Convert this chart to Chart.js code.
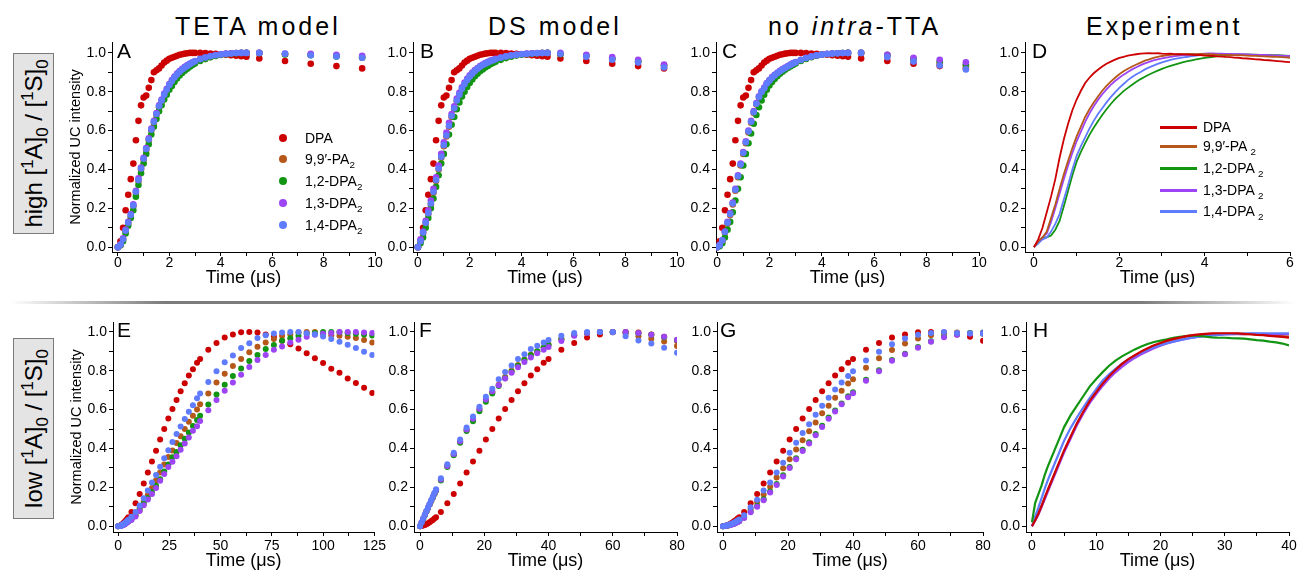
<!DOCTYPE html>
<html>
<head>
<meta charset="utf-8">
<script src="https://cdn.jsdelivr.net/npm/chart.js@4.4.0/dist/chart.umd.min.js"></script>
<style>
  body { margin: 0; background: #fff; font-family: "Liberation Sans", Arial, sans-serif; color: #000; }
  #page { position: relative; width: 1299px; height: 571px; overflow: hidden; }
  canvas { position: absolute; }
  .coltitle { position: absolute; top: 14px; font-size: 25px; line-height: 25px; letter-spacing: 3px; white-space: nowrap; }
  .letter { position: absolute; font-size: 21px; line-height: 21px; }
  .rowbox { position: absolute; left: 13px; width: 39px; height: 179px; background: #e4e4e4; border: 1px solid #7a7a7a; }
  .rowbox div { position: absolute; left: -71px; top: 69px; width: 181px; height: 41px; line-height: 41px;
                text-align: center; font-size: 24px; white-space: nowrap; transform: rotate(-90deg); }
  .leg { position: absolute; font-size: 14px; line-height: 14px; white-space: nowrap; }
  .dot { position: absolute; width: 8px; height: 8px; border-radius: 50%; }
  .swatch { position: absolute; width: 37px; height: 3px; }
  sub, sup { font-size: 70%; line-height: 0; }
  #sep { position: absolute; left: 10px; top: 301px; width: 1285px; height: 3px;
         background: linear-gradient(to right, rgba(120,120,120,0), #7c7c7c 12%, #7c7c7c 88%, rgba(120,120,120,0)); }
</style>
</head>
<body>
<div id="page">
  <div class="coltitle" style="left:175px">TETA model</div>
  <div class="coltitle" style="left:488px">DS model</div>
  <div class="coltitle" style="left:768px">no <i>intra</i>-TTA</div>
  <div class="coltitle" style="left:1086px">Experiment</div>

  <div class="rowbox" style="top:53px"><div>high [<sup>1</sup>A]<sub>0</sub> / [<sup>1</sup>S]<sub>0</sub></div></div>
  <div class="rowbox" style="top:338px"><div>low [<sup>1</sup>A]<sub>0</sub> / [<sup>1</sup>S]<sub>0</sub></div></div>
  <div id="sep"></div>

  <canvas id="cA"></canvas><canvas id="cB"></canvas><canvas id="cC"></canvas><canvas id="cD"></canvas>
  <canvas id="cE"></canvas><canvas id="cF"></canvas><canvas id="cG"></canvas><canvas id="cH"></canvas>

  <div class="letter" style="left:117px;top:40px">A</div>
  <div class="letter" style="left:420px;top:40px">B</div>
  <div class="letter" style="left:722px;top:40px">C</div>
  <div class="letter" style="left:1032px;top:40px">D</div>
  <div class="letter" style="left:117px;top:319px">E</div>
  <div class="letter" style="left:419px;top:319px">F</div>
  <div class="letter" style="left:720px;top:319px">G</div>
  <div class="letter" style="left:1033px;top:319px">H</div>

  <div id="legA"></div>
  <div id="legD"></div>
</div>

<script>
const FONT = '"Liberation Sans", Arial, sans-serif';
const SERIES = ['DPA', '9,9′-PA<sub>2</sub>', '1,2-DPA<sub>2</sub>', '1,3-DPA<sub>2</sub>', '1,4-DPA<sub>2</sub>'];
const COLORS = ['#cc0000', '#b5581a', '#129512', '#9d45f5', '#5f7bff'];

// high concentration, simulations (time in us)
const tHigh = [0,0.1,0.2,0.3,0.4,0.5,0.6,0.7,0.8,0.9,1,1.1,1.2,1.3,1.4,1.5,1.6,1.7,1.8,1.9,2,2.1,2.2,2.3,2.4,2.5,2.6,2.7,2.8,2.9,3,
  3.2,3.4,3.6,3.8,4,4.2,4.4,4.6,4.8,5, 5.5,6.5,7.5,8.5,9.5];

const dpaHigh = [0,0.03,0.10,0.19,0.27,0.35,0.43,0.55,0.65,0.73,0.77,0.78,0.82,0.86,0.90,0.91,0.92,0.935,0.95,0.96,0.97,0.975,0.98,0.985,0.99,0.993,0.996,0.998,1.0,1.0,1.0,
  1.0,0.999,0.997,0.995,0.993,0.99,0.988,0.985,0.983,0.98, 0.971,0.958,0.944,0.932,0.92];

const tetaPA  = [0,0.01,0.04,0.08,0.12,0.16,0.21,0.28,0.34,0.40,0.45,0.50,0.55,0.60,0.64,0.68,0.72,0.75,0.78,0.805,0.83,0.85,0.87,0.885,0.90,0.91,0.92,0.93,0.94,0.948,0.955,
  0.966,0.975,0.982,0.988,0.992,0.995,0.997,0.999,1.0,1.0, 1.0,0.993,0.99,0.985,0.978];
const teta12 = [0,0.01,0.03,0.07,0.11,0.15,0.19,0.26,0.32,0.38,0.43,0.48,0.53,0.58,0.62,0.66,0.70,0.73,0.76,0.785,0.81,0.83,0.85,0.868,0.884,0.897,0.908,0.918,0.928,0.937,0.945,
  0.958,0.968,0.977,0.984,0.989,0.993,0.996,0.998,0.999,1.0, 0.998,0.992,0.988,0.982,0.975];
const teta13 = [0,0.015,0.045,0.09,0.13,0.17,0.22,0.29,0.355,0.41,0.46,0.51,0.56,0.61,0.65,0.69,0.73,0.76,0.79,0.815,0.84,0.86,0.878,0.893,0.907,0.918,0.928,0.937,0.945,0.952,0.958,
  0.969,0.977,0.984,0.989,0.993,0.996,0.998,0.999,1.0,1.0, 1.0,0.997,0.995,0.99,0.985];
const teta14 = [0,0.012,0.04,0.085,0.125,0.165,0.215,0.285,0.345,0.405,0.455,0.505,0.555,0.605,0.645,0.685,0.725,0.755,0.785,0.81,0.835,0.855,0.873,0.889,0.903,0.914,0.924,0.933,0.942,0.95,0.957,
  0.968,0.976,0.983,0.988,0.992,0.995,0.997,0.999,1.0,1.0, 1.0,0.995,0.988,0.982,0.975];

const dsPA  = [0,0.03,0.07,0.12,0.17,0.22,0.28,0.34,0.40,0.46,0.52,0.57,0.62,0.67,0.71,0.75,0.78,0.81,0.835,0.855,0.875,0.89,0.905,0.915,0.925,0.935,0.942,0.95,0.956,0.961,0.966,
  0.974,0.981,0.986,0.99,0.993,0.995,0.997,0.998,0.999,1.0, 0.995,0.985,0.97,0.955,0.935];
const ds12 = [0,0.02,0.05,0.10,0.15,0.20,0.25,0.31,0.37,0.43,0.48,0.53,0.58,0.63,0.67,0.71,0.745,0.775,0.80,0.825,0.845,0.863,0.88,0.893,0.905,0.915,0.925,0.933,0.941,0.948,0.954,
  0.964,0.973,0.98,0.986,0.99,0.993,0.996,0.998,0.999,1.0, 0.993,0.985,0.97,0.955,0.935];
const ds13 = [0,0.04,0.08,0.135,0.19,0.24,0.30,0.36,0.42,0.48,0.54,0.59,0.64,0.685,0.725,0.765,0.795,0.823,0.847,0.866,0.885,0.899,0.912,0.922,0.932,0.94,0.947,0.954,0.96,0.965,0.97,
  0.977,0.983,0.988,0.991,0.994,0.996,0.998,0.999,1.0,1.0, 1.0,0.99,0.978,0.965,0.94];
const ds14 = [0,0.03,0.075,0.125,0.175,0.225,0.285,0.345,0.405,0.465,0.525,0.575,0.625,0.675,0.715,0.755,0.785,0.815,0.84,0.86,0.878,0.893,0.907,0.918,0.928,0.937,0.944,0.951,0.957,0.962,0.967,
  0.975,0.982,0.987,0.99,0.993,0.995,0.997,0.998,0.999,1.0, 0.995,0.98,0.965,0.95,0.925];

const niPA  = [0,0.01,0.03,0.075,0.12,0.165,0.22,0.29,0.36,0.42,0.48,0.535,0.59,0.64,0.69,0.735,0.77,0.795,0.815,0.84,0.855,0.87,0.882,0.893,0.903,0.912,0.92,0.928,0.936,0.943,0.95,
  0.962,0.972,0.98,0.986,0.991,0.994,0.996,0.998,0.999,1.0, 1.0,0.985,0.965,0.945,0.935];
const ni12 = [0,0.005,0.02,0.05,0.09,0.13,0.18,0.24,0.30,0.36,0.42,0.48,0.535,0.585,0.635,0.68,0.72,0.755,0.785,0.81,0.832,0.85,0.866,0.88,0.892,0.903,0.913,0.922,0.93,0.938,0.945,
  0.958,0.969,0.978,0.985,0.99,0.994,0.996,0.998,0.999,1.0, 1.0,0.99,0.97,0.955,0.94];
const ni13 = [0,0.012,0.035,0.08,0.13,0.175,0.23,0.30,0.37,0.43,0.49,0.545,0.60,0.65,0.70,0.742,0.777,0.802,0.822,0.845,0.86,0.875,0.887,0.898,0.908,0.917,0.925,0.932,0.94,0.947,0.953,
  0.965,0.975,0.982,0.988,0.992,0.995,0.997,0.998,0.999,1.0, 1.0,0.99,0.975,0.965,0.952];
const ni14 = [0,0.01,0.035,0.078,0.125,0.17,0.225,0.295,0.365,0.425,0.485,0.54,0.595,0.645,0.695,0.738,0.773,0.798,0.818,0.842,0.857,0.872,0.884,0.895,0.905,0.914,0.922,0.93,0.938,0.945,0.952,
  0.963,0.973,0.981,0.987,0.991,0.994,0.996,0.998,0.999,1.0, 1.0,0.978,0.955,0.935,0.915];

// high concentration, experiment
const tExpHigh = [0,0.1,0.2,0.3,0.4,0.5,0.6,0.7,0.8,0.9,1,1.1,1.2,1.3,1.4,1.5,1.6,1.7,1.8,1.9,2,2.1,2.2,2.3,2.4,2.5,2.6,2.7,2.8,2.9,
  3,3.1,3.2,3.3,3.4,3.5,3.6,3.7,3.8,3.9,4,4.1,4.2,4.3,4.4,4.5,4.6,4.7,4.8,4.9,5,5.1,5.2,5.3,5.4,5.5,5.6,5.7,5.8,5.9,6];
const expDPA = [0,0.04,0.10,0.18,0.26,0.35,0.46,0.555,0.635,0.705,0.76,0.805,0.845,0.872,0.895,0.913,0.93,0.944,0.955,0.965,
  0.974,0.98,0.986,0.99,0.993,0.996,0.997,0.998,0.997,0.998,0.996,0.995,0.996,0.994,0.993,0.992,0.991,0.99,0.988,0.989,
  0.986,0.985,0.984,0.982,0.981,0.979,0.978,0.976,0.975,0.972,0.971,0.969,0.967,0.966,0.963,0.962,0.96,0.958,0.956,0.954,0.952];
const expPA = [0,0.03,0.05,0.08,0.15,0.22,0.30,0.375,0.445,0.51,0.57,0.62,0.67,0.71,0.745,0.775,0.805,0.83,0.852,0.872,
  0.89,0.905,0.918,0.93,0.94,0.95,0.96,0.967,0.974,0.98,0.984,0.987,0.99,0.991,0.993,0.994,0.995,0.995,0.994,0.995,
  0.993,0.993,0.992,0.991,0.99,0.99,0.989,0.988,0.988,0.987,0.986,0.985,0.985,0.983,0.982,0.981,0.98,0.979,0.978,0.977,0.975];
const exp12 = [0,0.02,0.05,0.05,0.06,0.09,0.135,0.21,0.29,0.37,0.44,0.49,0.535,0.578,0.615,0.648,0.68,0.71,0.737,0.762,
  0.783,0.803,0.82,0.836,0.851,0.865,0.877,0.889,0.899,0.909,0.918,0.926,0.933,0.94,0.946,0.952,0.957,0.962,0.966,0.97,
  0.974,0.977,0.98,0.983,0.985,0.987,0.989,0.99,0.991,0.991,0.992,0.991,0.991,0.99,0.99,0.989,0.988,0.988,0.987,0.986,0.985];
const exp13 = [0,0.03,0.05,0.07,0.13,0.20,0.275,0.35,0.42,0.485,0.545,0.595,0.645,0.688,0.725,0.758,0.787,0.812,0.835,0.855,
  0.872,0.888,0.902,0.915,0.926,0.937,0.946,0.954,0.961,0.967,0.972,0.976,0.98,0.983,0.986,0.988,0.99,0.992,0.994,0.995,
  0.996,0.997,0.997,0.996,0.996,0.995,0.995,0.994,0.993,0.993,0.992,0.991,0.99,0.99,0.989,0.988,0.987,0.987,0.986,0.985,0.984];
const exp14 = [0,0.02,0.04,0.05,0.08,0.12,0.17,0.245,0.32,0.40,0.47,0.52,0.565,0.61,0.65,0.685,0.715,0.745,0.772,0.797,
  0.82,0.84,0.86,0.876,0.89,0.902,0.915,0.925,0.934,0.943,0.951,0.958,0.964,0.969,0.973,0.977,0.98,0.983,0.986,0.988,
  0.99,0.991,0.992,0.992,0.993,0.993,0.993,0.992,0.992,0.991,0.99,0.989,0.988,0.988,0.987,0.986,0.985,0.984,0.983,0.982,0.98];

// low concentration, simulations
const tLow = [0,0.5,1,1.5,2,2.5,3,3.5,4,4.5,5, 6.5,8.5,10.5,12.5,14.5,16.5,18.5,20.5,22.5,24.5,26.5,28.5,30.5,32.5,34.5,36.5,38.5,40,
  44,48,52,56,60,64,68,72,76,80, 84,88,92,96,100,104,108,112,116,120,124];
const dpaLow = [0,0.001,0.003,0.006,0.01,0.015,0.02,0.026,0.032,0.039,0.046,
  0.073,0.118,0.166,0.22,0.276,0.333,0.388,0.446,0.50,0.554,0.603,0.65,0.695,0.736,0.776,0.808,0.841,0.861,
  0.908,0.943,0.971,0.987,0.998,1.0,0.997,0.987,0.975,0.954, 0.937,0.915,0.89,0.865,0.84,0.81,0.79,0.76,0.737,0.712,0.686];

const tetaLowPA = [0,0.001,0.002,0.003,0.005,0.008,0.011,0.015,0.019,0.024,0.029,
  0.04,0.063,0.094,0.127,0.16,0.196,0.237,0.276,0.317,0.356,0.39,0.428,0.463,0.50,0.537,0.569,0.601,0.627,
  0.683,0.739,0.785,0.824,0.861,0.895,0.924,0.946,0.963,0.98, 0.988,0.997,1.0,1.0,0.99,0.983,0.98,0.975,0.968,0.958,0.946];
const tetaLow12 = [0,0.001,0.002,0.003,0.005,0.007,0.01,0.013,0.017,0.021,0.025,
  0.035,0.055,0.083,0.115,0.145,0.176,0.208,0.242,0.281,0.318,0.355,0.382,0.416,0.45,0.482,0.516,0.547,0.569,
  0.626,0.678,0.728,0.773,0.812,0.85,0.881,0.912,0.932,0.954, 0.967,0.98,0.99,0.995,1.0,1.0,0.998,0.995,0.99,0.987,0.982];
const tetaLow13 = [0,0.001,0.002,0.003,0.004,0.006,0.009,0.012,0.016,0.02,0.024,
  0.032,0.05,0.078,0.108,0.137,0.165,0.196,0.234,0.268,0.305,0.332,0.36,0.394,0.425,0.457,0.491,0.515,0.542,
  0.597,0.649,0.697,0.74,0.78,0.82,0.855,0.881,0.908,0.925, 0.945,0.96,0.975,0.985,0.99,0.995,1.0,1.0,1.0,0.997,0.995];
const tetaLow14 = [0,0.001,0.002,0.004,0.007,0.01,0.014,0.018,0.023,0.028,0.033,
  0.048,0.073,0.107,0.144,0.183,0.225,0.264,0.306,0.349,0.391,0.433,0.474,0.513,0.552,0.589,0.623,0.658,0.683,
  0.742,0.797,0.844,0.878,0.917,0.942,0.968,0.983,0.992,0.997, 1.0,1.0,0.993,0.988,0.976,0.963,0.949,0.934,0.917,0.898,0.881];

const dsLowPA = [0,0.019,0.038,0.057,0.076,0.094,0.112,0.13,0.148,0.166,0.184,
  0.238,0.31,0.37,0.435,0.495,0.55,0.60,0.65,0.69,0.728,0.768,0.80,0.83,0.858,0.882,0.90,0.92,0.935,
  0.965,0.985,0.995,1.0,1.0,0.99,0.978,0.965,0.95,0.927];
const dsLow12 = [0,0.018,0.037,0.056,0.075,0.093,0.111,0.129,0.147,0.165,0.183,
  0.235,0.305,0.365,0.43,0.49,0.54,0.592,0.64,0.683,0.722,0.762,0.795,0.826,0.855,0.88,0.90,0.918,0.933,
  0.962,0.983,0.995,1.0,1.0,0.998,0.993,0.985,0.973,0.958];
const dsLow13 = [0,0.02,0.039,0.058,0.077,0.095,0.113,0.132,0.15,0.168,0.186,
  0.24,0.31,0.372,0.437,0.497,0.553,0.605,0.652,0.695,0.725,0.76,0.79,0.818,0.845,0.868,0.89,0.908,0.922,
  0.953,0.98,0.995,1.0,1.0,1.0,0.995,0.986,0.975,0.96];
const dsLow14 = [0,0.02,0.04,0.06,0.08,0.098,0.116,0.135,0.153,0.172,0.19,
  0.247,0.319,0.378,0.446,0.508,0.564,0.615,0.666,0.708,0.756,0.793,0.827,0.861,0.885,0.912,0.929,0.946,0.958,
  0.98,0.995,1.0,1.0,0.998,0.978,0.956,0.94,0.919,0.893];

const niLowPA = [0,0.001,0.002,0.004,0.007,0.01,0.013,0.017,0.021,0.026,0.031,
  0.05,0.088,0.125,0.163,0.203,0.25,0.298,0.344,0.395,0.442,0.488,0.534,0.581,0.62,0.661,0.697,0.734,0.756,
  0.815,0.864,0.907,0.94,0.966,0.983,0.993,0.997,0.995,0.99];
const niLow12 = [0,0.001,0.002,0.003,0.006,0.008,0.011,0.014,0.018,0.022,0.027,
  0.045,0.076,0.104,0.138,0.178,0.217,0.262,0.305,0.35,0.393,0.432,0.474,0.517,0.559,0.596,0.632,0.669,0.69,
  0.754,0.802,0.855,0.888,0.922,0.952,0.977,0.988,0.995,0.997];
const niLow13 = [0,0.001,0.002,0.003,0.005,0.007,0.01,0.013,0.017,0.021,0.025,
  0.042,0.072,0.1,0.134,0.173,0.212,0.256,0.30,0.344,0.387,0.426,0.468,0.511,0.553,0.59,0.627,0.663,0.684,
  0.748,0.797,0.851,0.885,0.919,0.949,0.972,0.985,0.99,0.995];
const niLow14 = [0,0.001,0.003,0.005,0.008,0.011,0.015,0.019,0.024,0.029,0.034,
  0.056,0.098,0.136,0.183,0.225,0.276,0.327,0.378,0.429,0.48,0.525,0.573,0.62,0.661,0.703,0.739,0.773,0.797,
  0.853,0.898,0.936,0.966,0.986,0.995,1.0,0.995,0.993,0.99];

// low concentration, experiment
const tExpLow = [0,0.5,1,1.5,2,2.5,3,3.5,4,4.5,5,6,7,8,9,10,11,12,13,14,15,16,17,18,19,20,
  21,22,23,24,25,26,27,28,29,30,31,32,33,34,35,36,37,38,39,40];
const expLowDPA = [0,0.03,0.065,0.105,0.15,0.19,0.23,0.27,0.31,0.35,0.39,0.46,0.53,0.59,0.645,0.69,0.734,0.772,0.805,0.835,0.86,
  0.88,0.899,0.916,0.931,0.943,0.955,0.964,0.971,0.978,0.983,0.987,0.99,0.992,0.993,0.993,0.993,0.992,0.99,0.988,0.985,0.983,0.98,0.977,0.974,0.971];
const expLowPA = [0,0.03,0.063,0.102,0.146,0.186,0.226,0.266,0.306,0.345,0.385,0.455,0.525,0.585,0.64,0.686,0.73,0.768,0.80,0.83,0.855,
  0.876,0.895,0.912,0.927,0.94,0.951,0.96,0.968,0.975,0.98,0.984,0.987,0.989,0.99,0.99,0.99,0.99,0.989,0.988,0.986,0.984,0.982,0.98,0.978,0.976];
const expLow12 = [0.02,0.12,0.165,0.21,0.265,0.31,0.35,0.39,0.43,0.47,0.51,0.57,0.62,0.67,0.72,0.758,0.793,0.826,0.852,0.874,0.892,
  0.91,0.925,0.938,0.948,0.955,0.962,0.97,0.975,0.979,0.982,0.98,0.976,0.972,0.97,0.97,0.968,0.967,0.965,0.962,0.958,0.955,0.95,0.946,0.94,0.93];
const expLow13 = [0,0.03,0.06,0.1,0.14,0.18,0.22,0.26,0.30,0.34,0.38,0.45,0.52,0.58,0.635,0.68,0.722,0.76,0.792,0.82,0.845,
  0.866,0.885,0.901,0.916,0.929,0.94,0.95,0.958,0.965,0.971,0.976,0.98,0.983,0.985,0.987,0.988,0.989,0.989,0.99,0.99,0.99,0.989,0.989,0.988,0.988];
const expLow14 = [0,0.05,0.095,0.145,0.195,0.24,0.28,0.32,0.36,0.40,0.44,0.505,0.56,0.612,0.66,0.705,0.75,0.782,0.81,0.837,0.858,
  0.877,0.894,0.908,0.921,0.932,0.942,0.95,0.957,0.964,0.97,0.975,0.979,0.982,0.985,0.988,0.989,0.99,0.991,0.992,0.993,0.993,0.993,0.993,0.993,0.993];

function pts(xs, ys) {
  return ys.map((y, i) => ({ x: xs[i], y: y }));
}

// red drawn first, blue on top
function dots(xs, list, r) {
  const order = [5, 4, 3, 2, 1];
  return list.map((ys, k) => ({
    data: pts(xs, ys), backgroundColor: COLORS[k], borderColor: COLORS[k],
    pointRadius: r, pointHoverRadius: r, pointBorderWidth: 0, order: order[k]
  }));
}

function lines(xs, list, w, order) {
  return list.map((ys, k) => ({
    data: pts(xs, ys), borderColor: COLORS[k], backgroundColor: COLORS[k],
    showLine: true, pointRadius: 0, borderWidth: w, tension: 0, order: order[k]
  }));
}

const TOP = { y: [-0.025, 1.056], tickPad: 0, titlePad: 3 };
const BOTTOM = { y: [-0.03, 1.051], tickPad: 3, titlePad: 0 };

function makePanel(id, box, row, xr, step, major, datasets, yTitle) {
  const padL = 45, padT = 6, padB = 40, padR = 12;
  const cv = document.getElementById(id);
  const w = box.r - box.l + padL + padR;
  const h = box.b - box.t + padT + padB;
  cv.width = w; cv.height = h;
  cv.style.width = w + 'px'; cv.style.height = h + 'px';
  cv.style.left = (box.l - padL) + 'px';
  cv.style.top = (box.t - padT) + 'px';
  const tickFont = { family: FONT, size: 14, lineHeight: 1 };
  const axisLine = { display: true, color: '#000', width: 1 };
  const marks = { drawOnChartArea: false, drawTicks: true, tickLength: 4, color: '#000' };

  new Chart(cv, {
    type: 'scatter',
    data: { datasets: datasets },
    options: {
      responsive: false,
      animation: false,
      events: [],
      layout: { padding: { left: 0, top: padT, right: padR, bottom: 0 } },
      plugins: { legend: { display: false }, tooltip: { enabled: false } },
      scales: {
        x: {
          type: 'linear', min: xr[0], max: xr[1],
          border: axisLine, grid: marks,
          ticks: {
            stepSize: step, includeBounds: false, autoSkip: false, maxRotation: 0, minRotation: 0,
            padding: row.tickPad, color: '#000', font: tickFont,
            callback: v => (Math.abs(v / major - Math.round(v / major)) < 1e-6 ? String(Math.round(v)) : '')
          },
          title: {
            display: true, text: 'Time (μs)', color: '#000',
            font: { family: FONT, size: 18, lineHeight: 1.2 },
            padding: { top: 0, bottom: row.titlePad }
          },
          afterFit: s => { s.height = padB; }
        },
        y: {
          type: 'linear', min: row.y[0], max: row.y[1],
          border: axisLine, grid: marks,
          ticks: {
            stepSize: 0.1, includeBounds: false, autoSkip: false, padding: 2, color: '#000', font: tickFont,
            callback: v => (Math.round(v * 10) % 2 === 0 ? v.toFixed(1) : '')
          },
          title: {
            display: !!yTitle, text: yTitle || '', color: '#000',
            font: { family: FONT, size: 14.5, lineHeight: 1.2 },
            padding: { top: 0, bottom: 0 }
          },
          afterFit: s => { s.width = padL; }
        }
      }
    }
  });
}

const yName = 'Normalized UC intensity';
const lineOrder = [1, 2, 5, 3, 4];

makePanel('cA', { l: 112, r: 375, t: 39, b: 252 }, TOP, [-0.23, 10], 1, 2,
  dots(tHigh, [dpaHigh, tetaPA, teta12, teta13, teta14], 3.3), yName);
makePanel('cB', { l: 413, r: 677, t: 39, b: 252 }, TOP, [-0.19, 10], 1, 2,
  dots(tHigh, [dpaHigh, dsPA, ds12, ds13, ds14], 3.3));
makePanel('cC', { l: 716, r: 979, t: 39, b: 252 }, TOP, [-0.04, 10], 1, 2,
  dots(tHigh, [dpaHigh, niPA, ni12, ni13, ni14], 3.3));
makePanel('cD', { l: 1025, r: 1290, t: 39, b: 252 }, TOP, [-0.21, 6], 1, 2,
  lines(tExpHigh, [expDPA, expPA, exp12, exp13, exp14], 1.8, [1, 2, 5, 3, 4]));

makePanel('cE', { l: 113, r: 377, t: 319, b: 532 }, BOTTOM, [-2.5, 125], 12.5, 25,
  dots(tLow, [dpaLow, tetaLowPA, tetaLow12, tetaLow13, tetaLow14], 3.0), yName);
makePanel('cF', { l: 414, r: 677, t: 319, b: 532 }, BOTTOM, [-1.87, 80], 10, 20,
  dots(tLow, [dpaLow.slice(0, dsLowPA.length), dsLowPA, dsLow12, dsLow13, dsLow14], 3.0));
makePanel('cG', { l: 717, r: 983, t: 319, b: 532 }, BOTTOM, [-1.85, 80], 10, 20,
  dots(tLow, [dpaLow.slice(0, niLowPA.length), niLowPA, niLow12, niLow13, niLow14], 3.0));
makePanel('cH', { l: 1026, r: 1289, t: 319, b: 532 }, BOTTOM, [-0.93, 40], 5, 10,
  lines(tExpLow, [expLowDPA, expLowPA, expLow12, expLow13, expLow14], 2.2, [1, 5, 2, 4, 3]));

// legends
const legA = document.getElementById('legA');
const rowsA = [138, 159, 181, 203, 225];
SERIES.forEach((name, k) => {
  legA.insertAdjacentHTML('beforeend',
    '<div class="dot" style="left:279px;top:' + (rowsA[k] - 4) + 'px;background:' + COLORS[k] + '"></div>' +
    '<div class="leg" style="left:305px;top:' + (rowsA[k] + 5 - 11.85) + 'px">' + name + '</div>');
});
const legD = document.getElementById('legD');
const rowsD = [127.7, 146.7, 168.3, 190.3, 211.7];
SERIES.forEach((name, k) => {
  legD.insertAdjacentHTML('beforeend',
    '<div class="swatch" style="left:1160px;top:' + (rowsD[k] - 1.5) + 'px;background:' + COLORS[k] + '"></div>' +
    '<div class="leg" style="left:1203px;top:' + (rowsD[k] + 4.5 - 11.85) + 'px">' + name.replace('<sub>', ' <sub>') + '</div>');
});
</script>
</body>
</html>
